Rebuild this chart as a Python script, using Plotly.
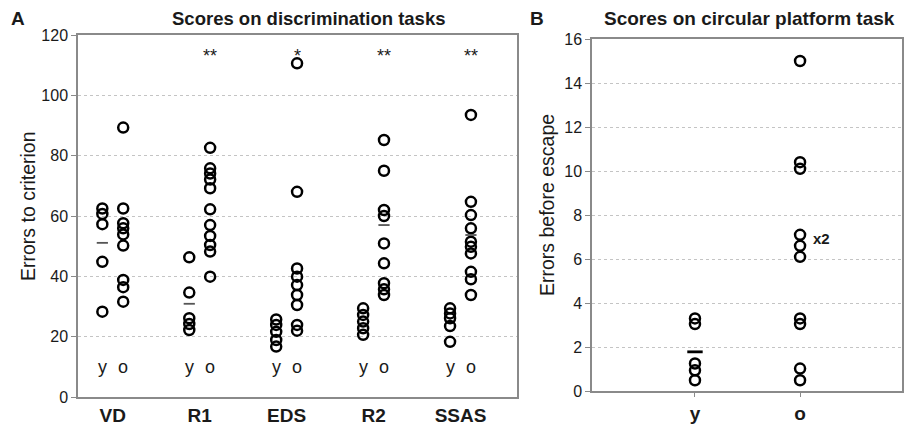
import plotly.graph_objects as go

# ---------------- data ----------------
categories = ["VD", "R1", "EDS", "R2", "SSAS"]
young_A = [
    [62.5, 60.7, 57.3, 44.8, 28.3],
    [46.3, 34.6, 26.1, 24.2, 22.2],
    [25.7, 23.9, 21.6, 18.9, 16.7],
    [29.4, 27.2, 25.0, 22.8, 20.6],
    [29.4, 27.7, 26.1, 23.5, 18.3],
]
old_A = [
    [89.3, 62.5, 57.6, 55.9, 53.9, 50.2, 38.8, 36.4, 31.6],
    [82.6, 75.8, 74.1, 72.1, 69.2, 62.2, 57.0, 53.4, 50.4, 48.2, 39.9],
    [110.6, 68.0, 42.6, 39.9, 37.1, 33.8, 30.5, 23.9, 22.0],
    [85.2, 75.0, 62.0, 60.0, 50.9, 44.3, 37.7, 35.7, 33.8],
    [93.5, 64.7, 60.3, 55.9, 51.5, 49.8, 47.6, 41.5, 39.0, 33.8],
]
mean_young_A = [51.1, 30.9, None, None, None]
mean_old_A = [None, None, None, 57.0, 53.7]
signif_A = ["", "**", "*", "**", "**"]

groups_B = ["y", "o"]
young_B = [3.3, 3.04, 1.25, 0.94, 0.49]
old_B = [15.0, 10.4, 10.1, 7.1, 6.6, 6.1, 3.3, 3.04, 1.02, 0.49]
mean_young_B = 1.78

# ---------------- layout helpers ----------------
FW, FH = 905, 428


def fx(px):
    return px / FW


def fy(py):
    return 1 - py / FH


OFF = 0.12  # offset of y / o columns around category centre
AX = "#8a8a8a"
GRID = "#c4c4c4"
TXT = "#1a1a1a"
FONT = "Liberation Sans, Arial, sans-serif"

circle = dict(symbol="circle-open", size=10, color="black", line=dict(width=2.5, color="black"))

fig = go.Figure()

# Panel A points
for i, cat in enumerate(categories):
    fig.add_trace(go.Scatter(x=[i - OFF] * len(young_A[i]), y=young_A[i], mode="markers",
                             marker=circle, xaxis="x", yaxis="y", showlegend=False))
    fig.add_trace(go.Scatter(x=[i + OFF] * len(old_A[i]), y=old_A[i], mode="markers",
                             marker=circle, xaxis="x", yaxis="y", showlegend=False))
mx, my = [], []
for i in range(len(categories)):
    if mean_young_A[i] is not None:
        mx.append(i - OFF); my.append(mean_young_A[i])
    if mean_old_A[i] is not None:
        mx.append(i + OFF); my.append(mean_old_A[i])
fig.add_trace(go.Scatter(x=mx, y=my, mode="markers", xaxis="x", yaxis="y", showlegend=False,
                         marker=dict(symbol="line-ew", size=8, line=dict(width=1.8, color="#555"))))

# Panel B points
fig.add_trace(go.Scatter(x=[0] * len(young_B), y=young_B, mode="markers", marker=circle,
                         xaxis="x2", yaxis="y2", showlegend=False))
fig.add_trace(go.Scatter(x=[1] * len(old_B), y=old_B, mode="markers", marker=circle,
                         xaxis="x2", yaxis="y2", showlegend=False))
fig.add_trace(go.Scatter(x=[0], y=[mean_young_B], mode="markers", xaxis="x2", yaxis="y2", showlegend=False,
                         marker=dict(symbol="line-ew", size=11, line=dict(width=2.8, color="black"))))

annotations = []
# y / o labels and significance stars for panel A
for i, cat in enumerate(categories):
    annotations.append(dict(x=i - OFF, y=10, xref="x", yref="y", text="y", showarrow=False,
                            font=dict(size=18, color=TXT, family=FONT)))
    annotations.append(dict(x=i + OFF, y=10, xref="x", yref="y", text="o", showarrow=False,
                            font=dict(size=18, color=TXT, family=FONT)))
    if signif_A[i]:
        annotations.append(dict(x=i + OFF, y=113, xref="x", yref="y", text=signif_A[i], showarrow=False,
                                font=dict(size=18, color=TXT, family=FONT)))
# x2 label in panel B
annotations.append(dict(x=1, y=old_B[3], xref="x2", yref="y2", text="<b>x2</b>", showarrow=False,
                        xanchor="left", xshift=11, yshift=-4, font=dict(size=15, color=TXT, family=FONT)))
# titles and panel letters
annotations += [
    dict(x=fx(308), y=fy(19), text="<b>Scores on discrimination tasks</b>",
         font=dict(size=18.5, color=TXT, family=FONT)),
    dict(x=fx(18), y=fy(19), text="<b>A</b>", font=dict(size=19, color=TXT, family=FONT)),
    dict(x=fx(749), y=fy(19), text="<b>Scores on circular platform task</b>",
         font=dict(size=19, color=TXT, family=FONT)),
    dict(x=fx(537), y=fy(19), text="<b>B</b>", font=dict(size=19, color=TXT, family=FONT)),
    dict(x=fx(28), y=fy(206), text="Errors to criterion", textangle=-90,
         font=dict(size=19.5, color=TXT, family=FONT)),
    dict(x=fx(547), y=fy(205), text="Errors before escape", textangle=-90,
         font=dict(size=19.5, color=TXT, family=FONT)),
]
for a in annotations[-6:]:
    a.update(xref="paper", yref="paper", showarrow=False, xanchor="center", yanchor="middle")

yax_common = dict(showline=True, linecolor=AX, linewidth=1.5, mirror=True, showgrid=True, gridcolor=GRID,
                  griddash="dot", gridwidth=1, ticks="outside", ticklen=5, tickcolor=AX,
                  tickfont=dict(size=16, color=TXT, family=FONT), zeroline=False, automargin=False)
xax_common = dict(showline=True, linecolor=AX, linewidth=1.5, mirror=True, showgrid=False, zeroline=False,
                  tickfont=dict(size=19, color=TXT, family=FONT), automargin=False)

fig.update_layout(
    width=FW, height=FH, margin=dict(l=0, r=0, t=0, b=0, autoexpand=False),
    paper_bgcolor="white", plot_bgcolor="white",
    font=dict(family=FONT),
    xaxis=dict(domain=[fx(78), fx(517)], range=[-0.4, 4.65], tickvals=list(range(len(categories))),
               ticktext=["<b>%s</b>" % c for c in categories], ticks="", anchor="y", **xax_common),
    yaxis=dict(domain=[fy(397), fy(35)], range=[0, 120], dtick=20, anchor="x", **yax_common),
    xaxis2=dict(domain=[fx(592), fx(902)], range=[-0.98, 1.97], tickvals=[0, 1],
                ticktext=["<b>%s</b>" % g for g in groups_B], ticks="outside", ticklen=4, tickcolor=AX,
                anchor="y2", **xax_common),
    yaxis2=dict(domain=[fy(391), fy(39)], range=[0, 16], dtick=2, anchor="x2", **yax_common),
    annotations=annotations,
)

# remove the default page margin so the figure sits at the window's top-left corner
fig.write_html("out.html", config={"displayModeBar": False},
               post_script="document.body.style.margin='0';document.documentElement.style.overflow='hidden';")
